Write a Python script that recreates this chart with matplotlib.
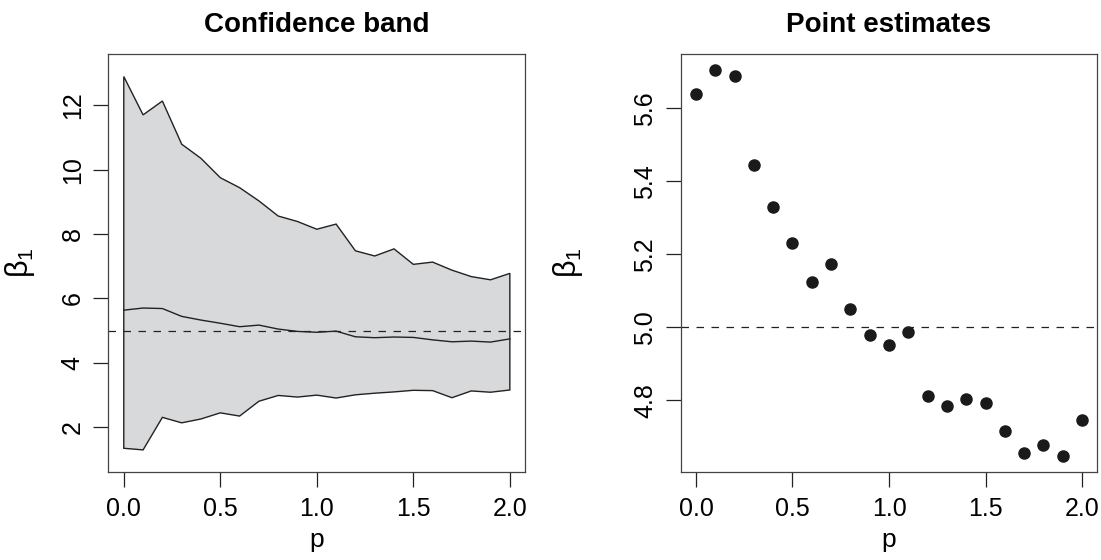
import numpy as np
import matplotlib
matplotlib.use("Agg")
import matplotlib.pyplot as plt

plt.rcParams['font.family'] = ['Liberation Sans', 'DejaVu Sans']
plt.rcParams['mathtext.fontset'] = 'custom'
plt.rcParams['mathtext.rm'] = 'Liberation Sans'
plt.rcParams['mathtext.it'] = 'Liberation Sans'

# p values 0.0 .. 2.0
p = [0.0, 0.1, 0.2, 0.3, 0.4, 0.5, 0.6, 0.7, 0.8, 0.9, 1.0,
     1.1, 1.2, 1.3, 1.4, 1.5, 1.6, 1.7, 1.8, 1.9, 2.0]

# point estimates of beta_1
est = [5.638, 5.704, 5.688, 5.445, 5.330, 5.232, 5.124, 5.174, 5.051, 4.978, 4.951,
       4.987, 4.811, 4.783, 4.804, 4.792, 4.716, 4.656, 4.677, 4.647, 4.746]

# confidence band
upper = [12.89, 11.70, 12.13, 10.79, 10.35, 9.75, 9.44, 9.03, 8.56, 8.39, 8.15,
         8.31, 7.48, 7.32, 7.54, 7.06, 7.13, 6.88, 6.68, 6.58, 6.78]
lower = [1.35, 1.30, 2.31, 2.14, 2.26, 2.45, 2.35, 2.81, 2.99, 2.94, 3.00,
         2.91, 3.01, 3.06, 3.10, 3.15, 3.14, 2.92, 3.13, 3.09, 3.16]

true_beta = 5.0

fig = plt.figure(figsize=(11.01, 5.6), dpi=100)
ax1 = fig.add_axes([0.0984, 0.1575, 0.3787, 0.7455])
ax2 = fig.add_axes([0.6181, 0.1575, 0.3787, 0.7455])

edge = '#222222'

# 左图: 置信带
poly_x = p + p[::-1]
poly_y = upper + lower[::-1]
ax1.fill(poly_x, poly_y, facecolor='#d8d9db', edgecolor=edge, linewidth=1.0)
ax1.plot(p, est, color=edge, linewidth=1.0)
ax1.axhline(true_beta, color=edge, linewidth=0.9, linestyle=(0, (6, 6)))
ax1.set_xlim(-0.08, 2.08)
ax1.set_ylim(0.62, 13.58)
ax1.set_yticks([2, 4, 6, 8, 10, 12])
ax1.set_title('Confidence band', fontsize=20, fontweight='bold', pad=16)

# 右图: 点估计
ax2.plot(p, est, 'o', color='#1a1a1a', markersize=8)
ax2.axhline(true_beta, color=edge, linewidth=0.9, linestyle=(0, (6, 6)))
ax2.set_xlim(-0.08, 2.08)
ax2.set_ylim(4.604, 5.748)
ax2.set_yticks([4.8, 5.0, 5.2, 5.4, 5.6])
ax2.set_title('Point estimates', fontsize=20, fontweight='bold', pad=16)

for ax in (ax1, ax2):
    ax.set_xticks([0.0, 0.5, 1.0, 1.5, 2.0])
    ax.set_xticklabels(['0.0', '0.5', '1.0', '1.5', '2.0'])
    ax.set_yticklabels([('%g' % t) if ax is ax1 else ('%.1f' % t) for t in ax.get_yticks()],
                       rotation=90, va='center')
    ax.tick_params(axis='both', direction='out', length=11, width=0.9,
                   labelsize=18, color=edge)
    ax.tick_params(axis='x', pad=7)
    ax.tick_params(axis='y', pad=6)
    for s in ax.spines.values():
        s.set_color('#444444')
        s.set_linewidth(0.9)
    ax.set_xlabel('p', fontsize=19, labelpad=5)

ax1.set_ylabel(r'$\beta_1$', fontsize=22)
ax2.set_ylabel(r'$\beta_1$', fontsize=22)
ax1.yaxis.set_label_coords(-0.17, 0.5)
ax2.yaxis.set_label_coords(-0.23, 0.5)

plt.savefig('out.png', dpi=100)
